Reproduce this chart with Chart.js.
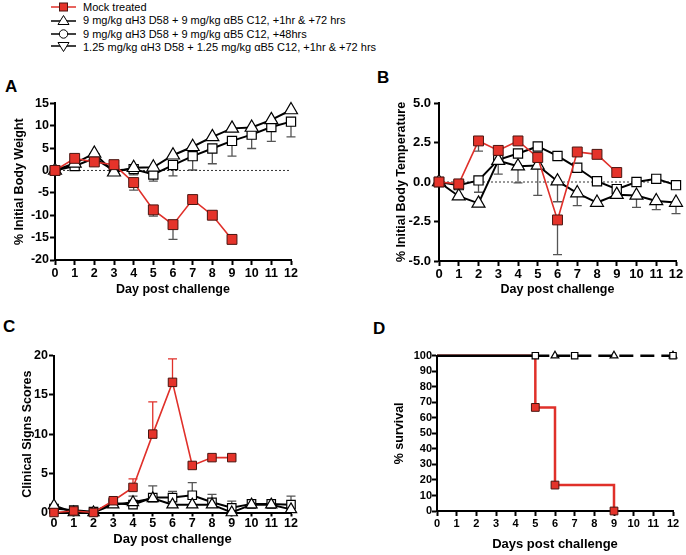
<!DOCTYPE html>
<html><head><meta charset="utf-8">
<script src="https://cdn.jsdelivr.net/npm/chart.js@4.4.0/dist/chart.umd.min.js"></script>
<style>
body{margin:0;width:686px;height:555px;position:relative;background:#fff;overflow:hidden;font-family:'Liberation Sans',Arial,sans-serif}
canvas{position:absolute}
.lbl{position:absolute;font:bold 17px 'Liberation Sans',Arial,sans-serif;line-height:17px}
#legend{position:absolute;left:51px;top:0;font-size:11px;color:#000}
#legend div{display:flex;align-items:center;height:13.5px;white-space:nowrap}
#legend svg{width:25px;height:12px;margin-right:7px;flex:none}
</style></head>
<body>
<div id="legend">
  <div><svg viewBox="0 0 25 12"><line x1="0" y1="6" x2="25" y2="6" stroke="#e0302a" stroke-width="1.5"/><rect x="8.5" y="2" width="8" height="8" fill="#e5332a" stroke="#4a1510" stroke-width="1"/></svg>Mock treated</div>
  <div><svg viewBox="0 0 25 12"><line x1="0" y1="7" x2="25" y2="7" stroke="#000" stroke-width="1.5"/><polygon points="12.5,1.5 18,10.5 7,10.5" fill="#fff" stroke="#000" stroke-width="1"/></svg>9 mg/kg αH3 D58 + 9 mg/kg αB5 C12, +1hr &amp; +72 hrs</div>
  <div><svg viewBox="0 0 25 12"><line x1="0" y1="6" x2="25" y2="6" stroke="#000" stroke-width="1.5"/><circle cx="12.5" cy="6" r="4.2" fill="#fff" stroke="#000" stroke-width="1"/></svg>9 mg/kg αH3 D58 + 9 mg/kg αB5 C12, +48hrs</div>
  <div><svg viewBox="0 0 25 12"><line x1="0" y1="5" x2="25" y2="5" stroke="#000" stroke-width="1.5"/><polygon points="7,1.5 18,1.5 12.5,10.5" fill="#fff" stroke="#000" stroke-width="1"/></svg>1.25 mg/kg αH3 D58 + 1.25 mg/kg αB5 C12, +1hr &amp; +72 hrs</div>
</div>
<div class="lbl" style="left:5px;top:78px">A</div>
<div class="lbl" style="left:377px;top:69px">B</div>
<div class="lbl" style="left:3px;top:318px">C</div>
<div class="lbl" style="left:373px;top:320px">D</div>
<canvas id="cA" width="300" height="215" style="left:0;top:90px"></canvas>
<canvas id="cB" width="306" height="215" style="left:380px;top:90px"></canvas>
<canvas id="cC" width="300" height="215" style="left:0;top:340px"></canvas>
<canvas id="cD" width="306" height="215" style="left:380px;top:340px"></canvas>
<script>
Chart.defaults.font.family="'Liberation Sans', Arial, sans-serif";
Chart.defaults.color='#000';

const days=[0,1,2,3,4,5,6,7,8,9,10,11,12];

// A — body weight
const aTicks=[-20,-15,-10,-5,0,5,10,15];
const aMock=[0,2.7,1.9,1.3,-2.7,-8.8,-12.1,-6.5,-10,-15.4];
const aMockErr=[null,null,null,null,-4.4,-10.2,-15.4,null,null,null];
const aTri=[0,1.6,3.8,-0.4,0.6,0.7,3.4,5.3,7.5,9.4,9.6,11.3,13.5];
const aSq=[0,1.0,2.7,0,0.3,-0.9,1.2,3.2,4.9,6.6,8.0,9.7,10.9];
const aSqErr=[null,null,null,null,-1.0,-2.4,-1.2,0.1,1.5,3.2,4.9,6.5,7.5];

// B — body temperature
const bTicks=[-5,-2.5,0,2.5,5];
const bMock=[0,-0.12,2.6,2.0,2.6,1.55,-2.4,1.9,1.75,0.6];
const bMockErr=[null,null,1.95,null,null,null,-4.6,null,null,null];
const bTri=[0,-0.9,-1.35,1.35,1.0,1.05,0.05,-0.7,-1.3,-0.8,-0.85,-1.2,-1.3];
const bTriErr=[null,null,null,0.5,-0.05,-0.85,-1.25,-1.5,null,-1.0,-1.6,-1.75,-2.0];
const bSq=[0,-0.2,0.1,1.4,1.8,2.25,1.65,0.9,0.05,-0.45,0.0,0.2,-0.2];
const bSqErr=[null,null,-0.65,null,null,null,1.45,null,null,null,null,null,null];

// C — clinical signs
const cTicks=[0,5,10,15,20];
const cMock=[0,0.2,0,1.5,3.2,10,16.6,6,7,7];
const cMockErr=[null,null,null,null,4.3,14.1,19.6,null,null,null];
const cTri=[0.9,0,0,1.0,1.3,1.8,1.0,1.0,1.0,0,1.0,1.0,0.4];
const cSq=[0.5,0.3,0.1,1.2,1.0,1.9,1.9,2.2,1.3,0.6,1.1,1.1,1.0];
const cSqErr=[null,null,null,null,2.1,3.4,2.7,3.8,2.3,1.45,null,1.3,2.1];

// D — survival
const dTicks=[0,10,20,30,40,50,60,70,80,90,100];
const dMockDays=[0,5,6,9];
const dMock=[100,66.7,16.7,0];
const dSqDays=[0,5,7,12];
const dSq=[100,100,100,100];
const dTriDays=[0,6,9,12];
const dTri=[100,100,100,100];

const RED='#e0302a',REDFILL='#e5332a',REDEDGE='#4a1510';

function pts(ys,xs){return ys.map((y,i)=>({x:(xs||days)[i],y}));}

// one-sided error bars with caps
const errBars={id:'errBars',beforeDatasetsDraw(chart){
  const {ctx,scales:{x,y}}=chart;
  chart.data.datasets.forEach(ds=>{
    if(!ds.err)return;
    ctx.save();ctx.strokeStyle=ds.errColor||'#555';ctx.lineWidth=1.3;
    ds.data.forEach((p,j)=>{
      const e=ds.err[j];if(e==null)return;
      const px=x.getPixelForValue(p.x),py=y.getPixelForValue(p.y),pe=y.getPixelForValue(e);
      ctx.beginPath();ctx.moveTo(px,py);ctx.lineTo(px,pe);ctx.moveTo(px-4.5,pe);ctx.lineTo(px+4.5,pe);ctx.stroke();
    });
    ctx.restore();
  });
}};

function mock(data,err,r,errColor){
  return {data,err,errColor,clip:false,borderColor:RED,borderWidth:1.6,pointStyle:'rect',pointRadius:r,
    pointBackgroundColor:REDFILL,pointBorderColor:REDEDGE,pointBorderWidth:1};
}
function open(data,style,r,err){
  return {data,err,clip:false,borderColor:'#000',borderWidth:2,pointStyle:style,pointRadius:r,
    pointBackgroundColor:'#fff',pointBorderColor:'#000',pointBorderWidth:1.2};
}
function zeroLine(){
  return {data:[{x:0,y:0},{x:12,y:0}],borderColor:'#333',borderWidth:1,borderDash:[2,2],pointRadius:0};
}

function makeChart(id,o){
  const H=215;
  return new Chart(document.getElementById(id),{
    type:'line',
    data:{datasets:o.datasets},
    options:{
      responsive:false,animation:false,
      layout:{autoPadding:false,padding:{top:o.area.t,right:o.w-o.area.r,left:0,bottom:0}},
      plugins:{legend:{display:false},tooltip:{enabled:false}},
      elements:{line:{tension:0}},
      scales:{
        x:{type:'linear',min:0,max:12,
          afterBuildTicks:s=>{s.ticks=days.map(v=>({value:v}));},
          afterFit:s=>{s.height=H-o.area.b;},
          grid:{drawOnChartArea:false,tickLength:o.xTick||5,tickWidth:2,color:'#000'},
          border:{color:'#000',width:2},
          ticks:{color:'#000',font:{weight:'bold',size:o.xf},padding:o.xPad,maxRotation:0,autoSkip:false},
          title:{display:true,text:o.xt,color:'#000',font:{weight:'bold',size:o.xtf||12.5},padding:{top:0,bottom:o.xtPad}}},
        y:{type:'linear',min:o.yTicks[0],max:o.yTicks[o.yTicks.length-1],
          afterBuildTicks:s=>{s.ticks=o.yTicks.map(v=>({value:v}));},
          afterFit:s=>{s.width=o.area.l;},
          grid:{drawOnChartArea:false,tickLength:5,tickWidth:2,color:'#000'},
          border:{color:'#000',width:2},
          ticks:{color:'#000',font:{weight:'bold',size:o.yf},padding:o.yPad,autoSkip:false,callback:o.yFmt||(v=>v)},
          title:{display:true,text:o.yt,color:'#000',font:{weight:'bold',size:12.5},padding:{top:o.ytPad,bottom:0}}}
      }
    },
    plugins:[errBars]
  });
}

makeChart('cA',{w:300,area:{l:55,t:13.3,r:291,b:170},yTicks:aTicks,xf:12.5,yf:12.5,xPad:1,yPad:1,
  xt:'Day post challenge',yt:'% Initial Body Weight',xtPad:7.5,ytPad:12.5,
  datasets:[mock(pts(aMock),aMockErr,7,'#555'),open(pts(aTri),'triangle',7.5),open(pts(aSq),'rect',6.5,aSqErr),zeroLine()]});

makeChart('cB',{w:306,area:{l:59,t:13,r:296,b:171},yTicks:bTicks,xf:13,yf:13,xPad:1,yPad:3,yFmt:v=>v.toFixed(1),
  xt:'Day post challenge',yt:'% Initial Body Temperature',xtPad:7.5,ytPad:14.5,
  datasets:[mock(pts(bMock),bMockErr,7,'#555'),open(pts(bTri),'triangle',7.5,bTriErr),open(pts(bSq),'rect',6.5,bSqErr),zeroLine()]});

makeChart('cC',{w:300,area:{l:54,t:15.7,r:291,b:172.5},yTicks:cTicks,xf:12.5,yf:12.5,xPad:0,yPad:1,xTick:4,
  xt:'Day post challenge',yt:'Clinical Signs Scores',xtPad:7.5,xtf:13,ytPad:20.5,
  datasets:[mock(pts(cMock),cMockErr,6,RED),open(pts(cTri),'triangle',6.5),open(pts(cSq),'rect',6,cSqErr)]});

const dashAfter5={borderDash:c=>c.p0.parsed.x>=5?[14,7]:undefined};
const dSqSet=open(pts(dSq,dSqDays),'rect',4.5);dSqSet.pointRadius=[0,4.5,4.5,4.5];dSqSet.segment=dashAfter5;dSqSet.borderWidth=2.5;
const dTriSet=open(pts(dTri,dTriDays),'triangle',4.5);dTriSet.pointRadius=[0,4.5,4.5,4.5];dTriSet.showLine=false;
const dMockSet=mock(pts(dMock,dMockDays),null,5.5);dMockSet.pointRadius=[0,5.5,5.5,5.5];dMockSet.stepped='before';dMockSet.borderWidth=2.5;
makeChart('cD',{w:306,area:{l:57,t:15.7,r:293,b:171},yTicks:dTicks,xf:11,yf:11,xPad:1.5,yPad:0,xTick:5,
  xt:'Days post challenge',yt:'% survival',xtPad:2.5,xtf:13,ytPad:12.5,
  datasets:[dSqSet,dTriSet,dMockSet]});
</script>
</body></html>
